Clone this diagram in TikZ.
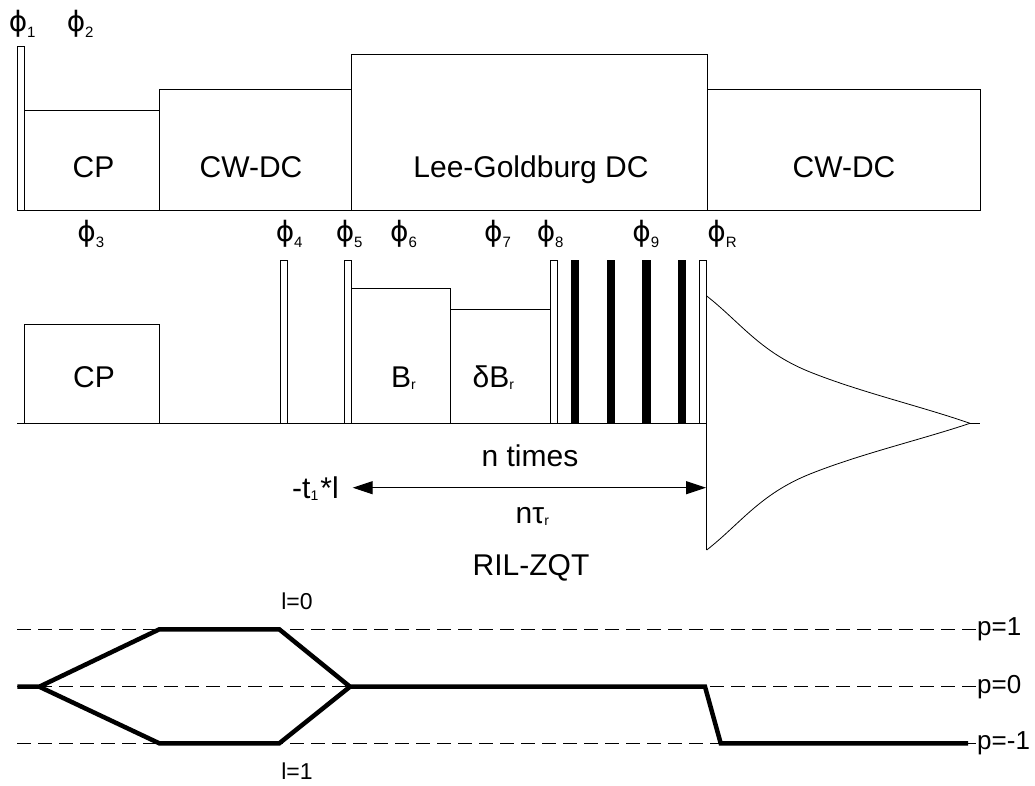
\documentclass[tikz,border=0pt]{standalone}
\usepackage{fontspec}
\setmainfont{Liberation Sans}
\newfontfamily\greekfont{DejaVu Sans}
\usetikzlibrary{arrows.meta,positioning,calc}
\tikzset{
  chanline/.style={line width=1pt},
  rfblock/.style={draw,line width=1pt},
  hardpulse/.style={draw,fill=white,line width=1pt},
  darkpulse/.style={fill=black},
  seqlabel/.style={font=\fontsize{30}{35}\selectfont,inner sep=0pt},
  phaselabel/.style={font=\fontsize{28}{32}\selectfont,inner sep=0pt,anchor=base},
  ordlabel/.style={font=\fontsize{26}{30}\selectfont,inner sep=0pt},
  levelline/.style={line width=0.8pt,dash pattern=on 14pt off 7pt},
  cohpath/.style={line width=4.5pt,line join=miter},
  spanarrow/.style={{Triangle[length=20pt,width=13pt]}-{Triangle[length=20pt,width=13pt]},line width=1pt},
  fidline/.style={line width=0.8pt}
}
\newcommand{\phs}[1]{{\greekfont ϕ}\rlap{\fontsize{15}{15}\selectfont\raisebox{-6pt}{#1}}}
\newcommand{\lowsub}[1]{\rlap{\fontsize{14}{14}\selectfont\raisebox{-2pt}{#1}}}

\begin{document}
\begin{tikzpicture}[x=1pt,y=-1pt]
  \useasboundingbox (0,0) rectangle (1035,785);

  % proton channel
  \draw[chanline] (17.3,210) -- (980,210);
  \draw[hardpulse] (17.3,210) rectangle (24.3,46.7);
  \draw[rfblock] (24.3,210) rectangle (159.3,110.7);
  \draw[rfblock] (159.3,210) rectangle (351.7,89.3);
  \draw[rfblock] (351.7,210) rectangle (707,54);
  \draw[rfblock] (707,210) rectangle (980,89.3);
  \node[seqlabel,anchor=base] (hcp) at (93.5,177) {CP};
  \node[seqlabel,anchor=base] (hdc1) at (251,177) {CW-DC};
  \node[seqlabel,anchor=base] (hlg) at (531,177) {Lee-Goldburg DC};
  \node[seqlabel,anchor=base] (hdc2) at (844,177) {CW-DC};
  \node[phaselabel] (ph1) at (18,31) {\phs{1}};
  \node[phaselabel] (ph2) at (76,31) {\phs{2}};

  % carbon channel
  \draw[chanline] (17.3,423.3) -- (706.7,423.3);
  \draw[rfblock] (24.3,423.3) rectangle (159.3,324);
  \draw[rfblock] (351.3,423.3) rectangle (450.7,288.3);
  \draw[rfblock] (450.7,423.3) rectangle (550,309.3);
  \foreach \xa/\xb in {280.7/287.3,344/351.3,550/557.3,699.3/706.7}
    {\draw[hardpulse] (\xa,423.3) rectangle (\xb,260);}
  \foreach \xa in {571,606.7,642.3,677.7}
    {\fill[darkpulse] (\xa,423.3) rectangle ++(8.3,-163.3);}
  \node[seqlabel,anchor=base] (ccp) at (94,387) {CP};
  \node[seqlabel,anchor=base] (cbr) at (401,387) {B\lowsub{r}};
  \node[seqlabel,anchor=base] (cdbr) at (491,387) {δB\lowsub{r}};
  \foreach \name/\xc/\ix in {ph3/86.7/3,ph4/285/4,ph5/345/5,ph6/399.3/6,ph7/493.3/7,ph8/546/8,ph9/641.7/9,phR/716.7/R}
    {\node[phaselabel] (\name) at (\xc,241) {\phs{\ix}};}

  % FID
  \coordinate (fidtop) at (706.7,296);
  \coordinate (fidbot) at (706.7,550);
  \coordinate (fidtip) at (970,423.3);
  \draw[fidline] (fidtop) .. controls (740,322) and (760,352) .. (810,372)
    .. controls (860,392) and (920,406) .. (fidtip);
  \draw[fidline] (fidbot) .. controls (740,524) and (760,494) .. (810,474)
    .. controls (860,454) and (920,440) .. (fidtip);
  \draw[fidline] (706.7,423.3) -- (fidbot);
  \draw[fidline] (fidtip) -- (980,423.3);

  % evolution period
  \coordinate (arrL) at (352.7,487.7);
  \coordinate (arrR) at (706,487.7);
  \draw[spanarrow] (arrL) -- (arrR);
  \node[seqlabel,anchor=base] (ntimes) at (530,466) {n times};
  \node[seqlabel,anchor=base] (ntau) at (530,523) {nτ\lowsub{r}};
  \node[seqlabel,anchor=base east] (tone) at (339,498) {-t\lowsub{1}\hspace{0.33em}*l};
  \node[seqlabel,anchor=base] (ril) at (531,575) {RIL-ZQT};

  % coherence pathways
  \foreach \yy/\pp in {629.3/1,686.7/0,743.3/-1}
    {\draw[levelline] (17.3,\yy) -- (976,\yy);
     \node[ordlabel,anchor=west] at (977,\yy) {p=\pp};}
  \coordinate (c0) at (17.3,686.7);
  \coordinate (c1) at (39.3,686.7);
  \coordinate (c2) at (159.3,629.3);
  \coordinate (c3) at (279.3,629.3);
  \coordinate (c4) at (350,686.7);
  \coordinate (c5) at (705,686.7);
  \coordinate (c6) at (720.7,743.3);
  \coordinate (c7) at (968,743.3);
  \coordinate (d2) at (159.3,743.3);
  \coordinate (d3) at (279.3,743.3);
  \draw[cohpath] (c0) -- (c1) -- (c2) -- (c3) -- (c4) -- (c5) -- (c6) -- (c7);
  \draw[cohpath] (c1) -- (d2) -- (d3) -- (c4);
  \node[ordlabel,font=\fontsize{23}{27}\selectfont] (lzero) at (297,601) {l=0};
  \node[ordlabel,font=\fontsize{23}{27}\selectfont] (lone) at (297,771) {l=1};
\end{tikzpicture}
\end{document}
